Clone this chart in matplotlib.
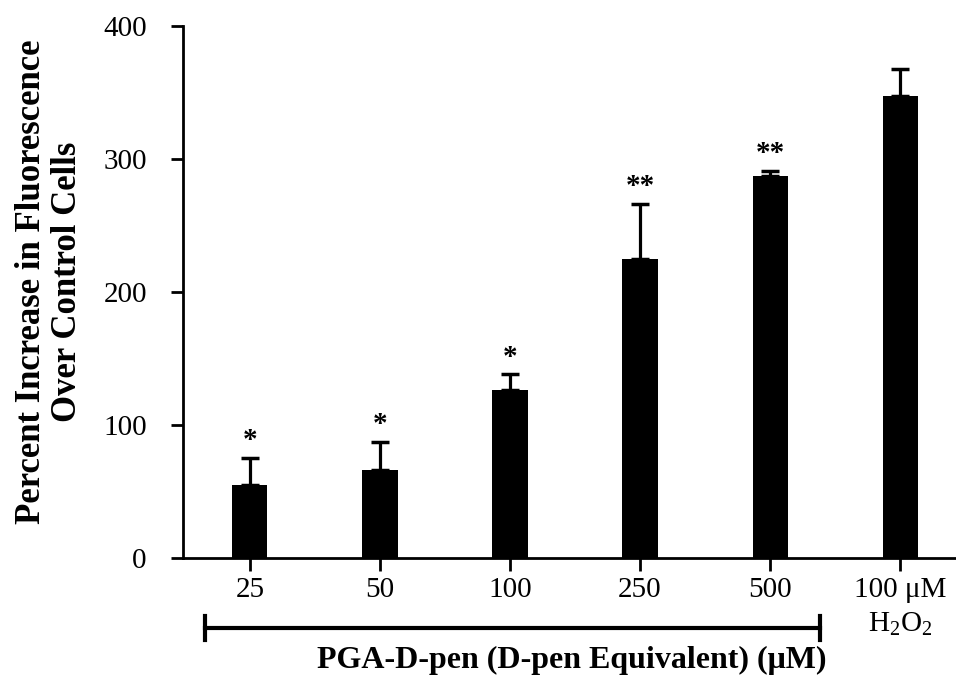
import matplotlib
matplotlib.use('Agg')
import matplotlib.pyplot as plt
import numpy as np

plt.rcParams['font.family'] = ['Liberation Serif', 'DejaVu Serif']
plt.rcParams['mathtext.fontset'] = 'custom'
plt.rcParams['mathtext.rm'] = 'Liberation Serif'

labels = ['25', '50', '100', '250', '500', '100 \u03bcM\nH$_2$O$_2$']
means = [55, 66, 126, 225, 287, 347]
errors = [20, 21, 12, 41, 4, 21]
stars = ['*', '*', '*', '**', '**', '']

fig = plt.figure(figsize=(9.56, 6.78), dpi=100)
ax = fig.add_axes([0.1914, 0.177, 0.8086, 0.7847])

x = np.arange(len(labels))
ax.bar(x, means, width=0.27, color='black')
ax.errorbar(x, means, yerr=[np.zeros(len(errors)), errors], fmt='none',
            ecolor='black', elinewidth=2.3, capsize=6.5, capthick=2.5)

# significance marks above the error bars
for xi, m, e, s in zip(x, means, errors, stars):
    if s:
        ax.text(xi, m + e + 13, s, ha='center', va='center',
                fontsize=21, fontweight='bold')

ax.set_xlim(-0.515, 5.43)
ax.set_ylim(0, 400)
ax.set_yticks([0, 100, 200, 300, 400])
ax.set_xticks(x)
ax.set_xticklabels(labels)
ax.get_xticklabels()[-1].set_linespacing(1.3)
ax.tick_params(axis='both', labelsize=21, width=2, length=9, direction='out')
ax.tick_params(axis='x', pad=5)
ax.tick_params(axis='y', pad=17)

for side in ['top', 'right']:
    ax.spines[side].set_visible(False)
for side in ['left', 'bottom']:
    ax.spines[side].set_linewidth(2)

ax.set_ylabel('Percent Increase in Fluorescence\nOver Control Cells',
              fontsize=25, fontweight='bold', labelpad=14, linespacing=1.1,
              y=0.52)

# bracket under the PGA-D-pen doses
bx0, bx1, by = 205 / 956, 820 / 956, 1 - 628 / 678
fig.add_artist(plt.Line2D([bx0, bx1], [by, by], color='black', lw=3))
for bx in (bx0, bx1):
    fig.add_artist(plt.Line2D([bx, bx], [by - 0.017, by + 0.017], color='black', lw=3))

fig.text(572 / 956, 1 - 660 / 678, 'PGA-D-pen (D-pen Equivalent) (\u03bcM)',
         ha='center', va='center', fontsize=23, fontweight='bold')

fig.savefig('out.png', dpi=100)
